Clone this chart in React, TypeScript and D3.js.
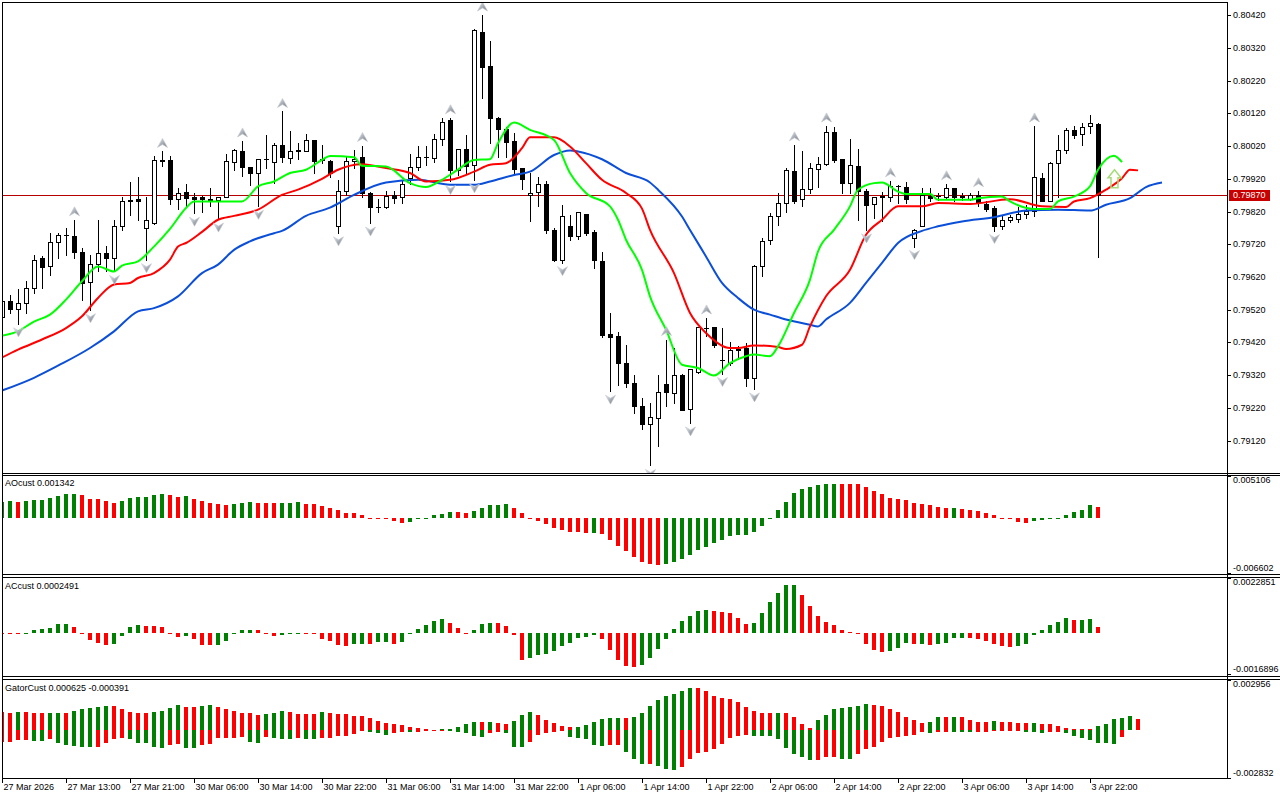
import React from "react";
import * as d3 from "d3";

// ---------- DATA ----------
const timeLabels = ["27 Mar 2026","27 Mar 13:00","27 Mar 21:00","30 Mar 06:00","30 Mar 14:00","30 Mar 22:00","31 Mar 06:00","31 Mar 14:00","31 Mar 22:00","1 Apr 06:00","1 Apr 14:00","1 Apr 22:00","2 Apr 06:00","2 Apr 14:00","2 Apr 22:00","3 Apr 06:00","3 Apr 14:00","3 Apr 22:00"];
const priceTicks = [0.8042,0.8032,0.8022,0.8012,0.8002,0.7992,0.7982,0.7972,0.7962,0.7952,0.7942,0.7932,0.7922,0.7912];
const lastPrice = 0.7987;

const opens = [0.79498,0.79546,0.79523,0.79542,0.79587,0.79679,0.79655,0.79727,0.79748,0.79745,0.79695,0.79605,0.7966,0.79693,0.79678,0.79775,0.79856,0.79859,0.79771,0.79785,0.79975,0.79977,0.79858,0.7988,0.79866,0.79864,0.79859,0.79854,0.79864,0.79971,0.80004,0.79956,0.79939,0.79981,0.79973,0.80024,0.79985,0.80007,0.80006,0.80039,0.7998,0.79975,0.79775,0.79884,0.79975,0.79988,0.79878,0.79834,0.79834,0.79871,0.79864,0.79922,0.79956,0.79986,0.79983,0.80041,0.801,0.79946,0.80011,0.79961,0.80368,0.80265,0.80107,0.80073,0.80036,0.79953,0.79871,0.7988,0.79905,0.79764,0.79673,0.79775,0.79744,0.79812,0.79759,0.7967,0.79446,0.79441,0.79357,0.79296,0.79227,0.79172,0.7919,0.79294,0.79266,0.79322,0.79217,0.79329,0.79464,0.79467,0.79365,0.79357,0.79398,0.79403,0.79312,0.79655,0.79732,0.79805,0.79846,0.79945,0.79858,0.79889,0.7995,0.79965,0.80063,0.79981,0.79907,0.7996,0.79884,0.79844,0.79866,0.79866,0.79897,0.79895,0.79739,0.79777,0.79868,0.79868,0.79866,0.79892,0.79866,0.79859,0.79871,0.79844,0.79831,0.79775,0.79793,0.79798,0.79813,0.79823,0.79922,0.79853,0.79968,0.80009,0.8007,0.80057,0.80083,0.80088];
const highs = [0.7956,0.79566,0.79584,0.79607,0.79688,0.79685,0.79755,0.79756,0.79771,0.79795,0.79709,0.79688,0.79793,0.79716,0.79793,0.79866,0.79909,0.79927,0.79866,0.79991,0.80004,0.79991,0.79892,0.79904,0.79878,0.79868,0.79892,0.79866,0.79996,0.80012,0.80036,0.79957,0.7998,0.80054,0.80029,0.80126,0.80065,0.80029,0.80057,0.8004,0.80024,0.79978,0.79917,0.7999,0.80009,0.80022,0.79879,0.79858,0.79884,0.79884,0.79917,0.79996,0.80019,0.80019,0.80057,0.80107,0.80107,0.80011,0.80054,0.80378,0.80421,0.80342,0.8011,0.8008,0.8006,0.79954,0.79938,0.79925,0.79912,0.79771,0.79841,0.7981,0.7982,0.79813,0.79764,0.79695,0.7951,0.79452,0.79413,0.79322,0.79251,0.79235,0.79322,0.79429,0.79403,0.79323,0.7934,0.79467,0.79495,0.79468,0.79464,0.7942,0.79408,0.79419,0.79658,0.79739,0.79817,0.79877,0.79953,0.80024,0.80004,0.79968,0.79988,0.80082,0.8008,0.79982,0.80042,0.80011,0.79889,0.79864,0.79881,0.79914,0.79902,0.79909,0.79767,0.79892,0.79892,0.79877,0.79905,0.79893,0.79878,0.79878,0.79884,0.79851,0.79838,0.79805,0.7981,0.79834,0.79841,0.80082,0.79938,0.79971,0.80054,0.80075,0.80082,0.80092,0.80116,0.80091];
const lows = [0.7949,0.7951,0.79477,0.79511,0.79572,0.79587,0.79627,0.79679,0.79688,0.79679,0.79551,0.7952,0.79637,0.79637,0.79637,0.79764,0.7981,0.79793,0.79673,0.79783,0.79958,0.79843,0.79828,0.79836,0.79815,0.7982,0.79836,0.79797,0.79864,0.79948,0.7993,0.79902,0.79836,0.79953,0.79907,0.79973,0.7997,0.7998,0.80004,0.79939,0.79968,0.79927,0.79755,0.79871,0.79954,0.79866,0.79785,0.79818,0.79831,0.79846,0.79846,0.79904,0.79948,0.79963,0.79973,0.80024,0.79912,0.79932,0.79938,0.79917,0.80166,0.80029,0.79988,0.79988,0.79939,0.7989,0.79792,0.79836,0.79754,0.79668,0.79664,0.79732,0.79737,0.79749,0.79648,0.79437,0.79271,0.79291,0.79284,0.79205,0.79154,0.79044,0.79105,0.79225,0.79235,0.79213,0.79174,0.79328,0.79441,0.79406,0.79325,0.79352,0.79368,0.79288,0.79278,0.79622,0.79721,0.7978,0.7982,0.79846,0.79836,0.79878,0.79894,0.79961,0.79973,0.79878,0.79877,0.79795,0.79764,0.798,0.7979,0.79851,0.79846,0.79846,0.79713,0.79775,0.79851,0.79856,0.79858,0.79853,0.79856,0.79856,0.79836,0.79823,0.79762,0.79767,0.79787,0.79787,0.798,0.79807,0.79851,0.79851,0.79866,0.8,0.80044,0.80024,0.8006,0.79681];
const closes = [0.79546,0.79522,0.79542,0.79587,0.79673,0.79651,0.79727,0.79749,0.79749,0.79695,0.79602,0.7966,0.79693,0.79678,0.79775,0.79853,0.79851,0.79853,0.79793,0.79977,0.79977,0.79858,0.79877,0.79861,0.7986,0.79858,0.79854,0.79864,0.79974,0.80008,0.79955,0.79939,0.7998,0.7998,0.80024,0.79988,0.80004,0.80006,0.80039,0.79976,0.79979,0.79938,0.79884,0.79975,0.79981,0.79877,0.79834,0.79835,0.79869,0.79861,0.79904,0.79956,0.79986,0.79987,0.80041,0.80095,0.79948,0.80011,0.79958,0.80375,0.80263,0.80105,0.80073,0.80034,0.79951,0.7992,0.79877,0.79905,0.79764,0.79673,0.79805,0.79744,0.7982,0.79754,0.79671,0.79444,0.79437,0.79357,0.79296,0.79225,0.79171,0.79193,0.79269,0.79268,0.79322,0.79215,0.7934,0.79467,0.79465,0.79413,0.79366,0.79398,0.79399,0.79312,0.79655,0.79731,0.79805,0.79846,0.79948,0.79853,0.79889,0.79953,0.79965,0.80063,0.79978,0.79907,0.79963,0.79884,0.79841,0.79864,0.79867,0.79897,0.79898,0.79858,0.79764,0.79871,0.79861,0.79867,0.79892,0.79866,0.79867,0.79871,0.79849,0.79828,0.79775,0.79795,0.79803,0.79812,0.79823,0.79925,0.79853,0.79968,0.80007,0.8007,0.80054,0.80078,0.80092,0.7987];

const jawBars = [0,4,7,11,14,17,19,22,25,27,29,31,34,35,38,41,44,48,52,56,59,61,64,66,69,71,72,75,78,81,82,85,86,88,90,92,94,96,98,101,102,103,106,108,110,112,115,117,120,124,128,132,136,138,141,143,145];
const jawVals = [0.79273,0.79312,0.79349,0.79403,0.79454,0.79515,0.79525,0.79561,0.79632,0.79658,0.79703,0.79729,0.79754,0.79761,0.79807,0.79832,0.79871,0.79909,0.79917,0.79902,0.79902,0.79912,0.79932,0.79942,0.79993,0.80007,0.80004,0.7998,0.79938,0.79909,0.79887,0.79805,0.79764,0.79683,0.79602,0.79556,0.7952,0.79505,0.7949,0.79474,0.79469,0.7949,0.79541,0.79602,0.79663,0.79724,0.79761,0.79775,0.7979,0.79803,0.79823,0.79826,0.79823,0.79841,0.79861,0.79895,0.79909];
const teethBars = [0,2,5,8,10,12,14,16,17,19,21,22,23,25,27,29,32,35,37,40,42,45,48,51,53,56,59,61,63,65,66,69,71,73,75,78,80,81,84,86,88,91,92,94,97,98,100,101,103,106,108,110,112,115,117,121,126,130,133,134,136,138,140,141,142];
const teethVals = [0.79374,0.79398,0.79429,0.79464,0.795,0.79556,0.79597,0.79602,0.79617,0.79632,0.79673,0.79713,0.79724,0.79758,0.79795,0.79807,0.79826,0.79871,0.79887,0.7992,0.79948,0.79965,0.79953,0.79938,0.79912,0.79917,0.79942,0.79963,0.79968,0.80014,0.80047,0.80047,0.80019,0.79968,0.79917,0.79877,0.79829,0.79764,0.79632,0.7951,0.79449,0.79403,0.79403,0.79411,0.79406,0.794,0.79413,0.79469,0.79561,0.79642,0.79749,0.79795,0.79836,0.79836,0.79846,0.79843,0.79858,0.79836,0.79834,0.79851,0.79861,0.79887,0.79922,0.79948,0.79946];
const lipsBars = [0,2,4,6,8,10,12,14,15,17,19,21,23,24,27,30,32,34,36,38,40,41,44,45,48,51,53,55,57,59,61,62,64,66,69,71,73,76,77,78,80,81,83,85,87,89,91,93,94,96,97,99,101,102,104,106,107,109,110,112,113,116,117,121,122,125,126,129,131,132,134,136,137,139,140];
const lipsVals = [0.79441,0.79454,0.79484,0.79505,0.79551,0.79607,0.79652,0.79637,0.79655,0.79668,0.79713,0.79767,0.79831,0.79851,0.79851,0.79851,0.79897,0.79912,0.79938,0.79948,0.79978,0.7999,0.79986,0.7996,0.79958,0.79907,0.79895,0.79917,0.79948,0.79978,0.7998,0.80029,0.80092,0.8007,0.80039,0.79938,0.79877,0.79836,0.79795,0.79734,0.79642,0.79561,0.79459,0.79352,0.79342,0.79319,0.79357,0.79378,0.79383,0.79378,0.79408,0.7951,0.79612,0.79698,0.79764,0.79836,0.79887,0.79907,0.79909,0.79881,0.79874,0.79874,0.79856,0.79856,0.79861,0.79866,0.79851,0.79828,0.79828,0.79851,0.79866,0.79897,0.79948,0.79991,0.79971];

const fractalUp = [9,20,30,35,45,56,60,83,88,99,103,111,118,122,129];
const fractalDown = [2,11,14,18,24,27,32,42,46,56,59,70,76,81,86,90,94,108,114,124];
const signalBar = 139;
const signalPrice = 0.79948;

const aoVals = [0.002,0.00205,0.002,0.00209,0.00217,0.00225,0.00241,0.00269,0.00289,0.00293,0.00281,0.00237,0.00229,0.00205,0.00184,0.00205,0.00241,0.00253,0.00257,0.00281,0.00289,0.00277,0.00257,0.00265,0.00237,0.00205,0.00184,0.00168,0.00164,0.00176,0.00184,0.00192,0.0019,0.00188,0.0018,0.00184,0.00188,0.00192,0.00172,0.00168,0.00144,0.00124,0.00096,0.00064,0.0006,0.0004,0.00008,-0.00004,-0.00008,-0.00032,-0.00052,-0.00044,-0.00012,-0.00006,0.0004,0.00056,0.00076,0.00072,0.0007,0.00088,0.0012,0.00156,0.00164,0.00172,0.00128,0.00064,-0.00004,-0.00032,-0.00064,-0.0012,-0.00144,-0.00164,-0.00168,-0.00172,-0.0017,-0.00192,-0.00261,-0.00333,-0.00393,-0.00465,-0.00525,-0.00553,-0.00565,-0.00553,-0.00525,-0.00493,-0.00445,-0.00381,-0.00345,-0.00301,-0.00261,-0.00213,-0.00205,-0.002,-0.0016,-0.00092,-0.00012,0.00096,0.002,0.00301,0.00349,0.00373,0.00397,0.00409,0.00417,0.00416,0.00415,0.00409,0.00377,0.00325,0.00289,0.00249,0.00237,0.00225,0.00188,0.00176,0.00156,0.00132,0.00124,0.00128,0.00108,0.001,0.00088,0.00064,0.00036,0.00008,-0.00012,-0.00044,-0.00056,-0.00032,-0.0002,-0.00008,-0.00002,0.00036,0.00076,0.001,0.00158,0.001342];
const acVals = [0.00002,0.00001,-0.00001,0.00001,0.00012,0.00017,0.00022,0.00036,0.00037,0.00026,-0.00001,-0.00028,-0.00039,-0.00047,-0.00044,-0.00011,0.00026,0.00033,0.00029,0.00028,0.00026,0.00003,-0.00014,-0.00011,-0.00025,-0.00048,-0.00049,-0.00047,-0.00032,-0.00003,0.00012,0.00013,0.00012,0.00003,-0.00011,-0.00008,-0.00001,0,-0.00002,-0.00003,-0.00022,-0.00032,-0.0005,-0.00052,-0.00044,-0.00043,-0.00044,-0.00037,-0.00036,-0.00044,-0.00037,-0.00001,0.00017,0.00034,0.0005,0.00058,0.00041,0.00021,0.00003,0.00012,0.00036,0.00044,0.00043,0.0003,-0.00007,-0.0011,-0.00102,-0.00088,-0.00087,-0.00073,-0.00052,-0.00039,-0.00021,-0.00015,-0.00007,-0.00025,-0.0007,-0.0011,-0.00135,-0.00139,-0.00131,-0.00103,-0.00066,-0.00025,0.00017,0.0005,0.00072,0.00092,0.00094,0.00091,0.00088,0.00083,0.00062,0.00036,0.00041,0.00084,0.00129,0.00165,0.00198,0.002,0.00157,0.00113,0.00072,0.00045,0.00034,0.00012,0.00004,-0.00003,-0.00044,-0.00069,-0.00077,-0.00073,-0.00061,-0.00041,-0.00044,-0.00043,-0.00048,-0.00043,-0.00041,-0.00021,-0.00019,-0.00021,-0.00025,-0.00033,-0.00044,-0.00054,-0.00058,-0.00052,-0.00044,-0.00008,0.00015,0.00034,0.00045,0.00062,0.00054,0.00056,0.00058,0.0002491];
const gatorUp = [0.00106,0.00102,0.00106,0.00105,0.00099,0.00098,0.00099,0.001,0.00099,0.00114,0.00122,0.00132,0.00136,0.00142,0.00141,0.00126,0.00106,0.00099,0.00098,0.00106,0.00114,0.00132,0.00148,0.00136,0.00135,0.00142,0.00148,0.00136,0.00122,0.00112,0.00099,0.00098,0.00089,0.00095,0.00099,0.00112,0.00106,0.00095,0.00094,0.00093,0.00106,0.00102,0.00095,0.00094,0.00085,0.00084,0.00073,0.00055,0.00039,0.00038,0.0003,0.0002,0.00014,0.00004,0.00001,0.00004,0.00006,0.0002,0.00033,0.00047,0.00046,0.00047,0.00043,0.00035,0.00055,0.00089,0.00108,0.00089,0.00059,0.00043,0.00024,0.00016,0.00017,0.0003,0.00047,0.00067,0.00071,0.00072,0.00071,0.00077,0.00102,0.00142,0.00177,0.00201,0.00213,0.0023,0.00246,0.00244,0.0023,0.00201,0.00187,0.00183,0.00167,0.00134,0.00112,0.00099,0.00098,0.00099,0.00098,0.00075,0.00033,0.0001,0.00059,0.00089,0.00124,0.00128,0.00134,0.00142,0.00152,0.00148,0.00144,0.00124,0.00104,0.00079,0.00059,0.00039,0.00045,0.00075,0.00074,0.00075,0.00074,0.00059,0.00047,0.00047,0.00053,0.00047,0.00046,0.00043,0.00042,0.00043,0.00035,0.00034,0.00024,0.00014,0.00008,0.00006,0.00004,0.00024,0.00033,0.00063,0.00073,0.00085,0.000625];
const gatorDown = [-0.00069,-0.00069,-0.00059,-0.00059,-0.00063,-0.00063,-0.00055,-0.00075,-0.00085,-0.00091,-0.00102,-0.00102,-0.00099,-0.00075,-0.00055,-0.00049,-0.00055,-0.00075,-0.00077,-0.00102,-0.00108,-0.00087,-0.00079,-0.00108,-0.00108,-0.00089,-0.00079,-0.00049,-0.00045,-0.00045,-0.00041,-0.00069,-0.00075,-0.00041,-0.00045,-0.00055,-0.00055,-0.00049,-0.00055,-0.00055,-0.00045,-0.00045,-0.00035,-0.00032,-0.00026,-0.00006,-0.00014,-0.00016,-0.0003,-0.0002,-0.0001,-0.00014,-0.0001,-0.00006,-0.00002,-0.00002,-0.00006,-0.0001,-0.0002,-0.00032,-0.00039,-0.0002,-0.00014,-0.0002,-0.00099,-0.00102,-0.00069,-0.0003,-0.00016,-0.00014,-0.00006,-0.00039,-0.00049,-0.00055,-0.00089,-0.00093,-0.00089,-0.00085,-0.00128,-0.00169,-0.00201,-0.00199,-0.00211,-0.00227,-0.00232,-0.00217,-0.00169,-0.00134,-0.00126,-0.00112,-0.00079,-0.00049,-0.00033,-0.0003,-0.00033,-0.00033,-0.00033,-0.00053,-0.00108,-0.00142,-0.00158,-0.00177,-0.00173,-0.0016,-0.0016,-0.00167,-0.00167,-0.00142,-0.00114,-0.00099,-0.00069,-0.00045,-0.00039,-0.00037,-0.0003,-0.00014,-0.00016,-0.00014,-0.0001,-0.00014,-0.00014,-0.00014,-0.0001,-0.0001,-0.00006,-0.00006,-0.00002,-0.00002,-0.0001,-0.00014,-0.00018,-0.00014,-0.0001,-0.0002,-0.00033,-0.00049,-0.00059,-0.00075,-0.00075,-0.00079,-0.000391];

// ---------- LAYOUT ----------
const W = 1280;
const H = 800;
const PL = 2;
const PR = 1227;
const FONT = "'Liberation Sans', Arial, sans-serif";
const GREEN = "#008000";
const RED = "#ff0000";

const x = d3.scaleLinear().domain([0, 137]).range([2, 1098]);
const yMain = d3.scaleLinear().domain([0.7912, 0.8042]).range([440.6, 15.3]);
const yAO = d3.scaleLinear().domain([-0.006602, 0.005106]).range([573.3, 476]);
const yAC = d3.scaleLinear().domain([-0.0016896, 0.0022851]).range([674.3, 577.7]);
const yG = d3.scaleLinear().domain([-0.002832, 0.002956]).range([778.3, 679.7]);

function colorsByChange(vals: number[], first: string, absMode = false): string[] {
  const out: string[] = [];
  vals.forEach((v, i) => {
    if (i === 0) { out.push(first); return; }
    const a = absMode ? Math.abs(v) : v;
    const b = absMode ? Math.abs(vals[i - 1]) : vals[i - 1];
    if (a > b) out.push(GREEN);
    else if (a < b) out.push(RED);
    else out.push(out[i - 1]);
  });
  return out;
}

function Histogram({ vals, y, colors }: { vals: number[]; y: d3.ScaleLinear<number, number>; colors: string[] }) {
  const y0 = y(0);
  return (
    <g shapeRendering="crispEdges">
      {vals.map((v, i) => {
        const cx = Math.round(x(i));
        const yv = y(v);
        const top = Math.min(yv, y0);
        const h = Math.max(1, Math.abs(yv - y0));
        return <rect key={i} x={cx - 2} y={top} width={4} height={h} fill={colors[i]} />;
      })}
    </g>
  );
}

function AxisLabelsSub({ y, top, bottom, topText, bottomText }: any) {
  return (
    <g>
      <line x1={PR} x2={PR + 4} y1={top + 0.5} y2={top + 0.5} stroke="#000" />
      <line x1={PR} x2={PR + 4} y1={bottom + 0.5} y2={bottom + 0.5} stroke="#000" />
      <text x={PR + 6} y={top + 5} dominantBaseline="middle" fontSize={9} fontFamily={FONT}>{topText}</text>
      <text x={PR + 6} y={bottom - 4} dominantBaseline="middle" fontSize={9} fontFamily={FONT}>{bottomText}</text>
    </g>
  );
}

export default function App() {
  const aoColors = colorsByChange(aoVals, GREEN);
  const acColors = colorsByChange(acVals, RED);
  const gUpColors = colorsByChange(gatorUp, RED);
  const gDnColors = colorsByChange(gatorDown, RED, true);

  const mkLine = (bars: number[], vals: number[]) =>
    d3.line<number>().x((_, i) => x(bars[i])).y((v) => yMain(v)).curve(d3.curveMonotoneX)(vals) || "";

  const sigX = x(signalBar) + 0.5;
  const sigY = yMain(signalPrice);

  return (
    <div style={{ position: "absolute", left: 0, top: 0, width: W, height: H, background: "#fff" }}>
      <svg width={W} height={H} style={{ display: "block" }}>
        <defs>
          <clipPath id="cMain"><rect x={PL + 1} y={3} width={PR - PL - 1} height={470} /></clipPath>
          <clipPath id="cAO"><rect x={PL + 1} y={476} width={PR - PL - 1} height={98} /></clipPath>
          <clipPath id="cAC"><rect x={PL + 1} y={578} width={PR - PL - 1} height={98} /></clipPath>
          <clipPath id="cG"><rect x={PL + 1} y={680} width={PR - PL - 1} height={98} /></clipPath>
          <linearGradient id="fracGrad" x1="0" y1="0" x2="1" y2="1">
            <stop offset="0" stopColor="#e8ecf4" />
            <stop offset="0.5" stopColor="#a9adb6" />
            <stop offset="1" stopColor="#6f737c" />
          </linearGradient>
        </defs>
        <rect x={0} y={0} width={W} height={H} fill="#fff" />

        {/* MAIN PANEL */}
        <g clipPath="url(#cMain)">
          <line x1={PL} x2={PR} y1={Math.round(yMain(lastPrice)) + 0.5} y2={Math.round(yMain(lastPrice)) + 0.5} stroke="#b40000" strokeWidth={1} />
          {opens.map((o, i) => {
            const cx = Math.round(x(i));
            const c = closes[i];
            const yo = Math.round(yMain(o));
            const yc = Math.round(yMain(c));
            const top = Math.min(yo, yc);
            const bot = Math.max(yo, yc);
            const bull = c >= o;
            return (
              <g key={i} shapeRendering="crispEdges">
                <line x1={cx + 0.5} x2={cx + 0.5} y1={Math.round(yMain(highs[i]))} y2={Math.round(yMain(lows[i])) + 1} stroke="#000" />
                {bot - top < 1 ? (
                  <line x1={cx - 2} x2={cx + 3} y1={top + 0.5} y2={top + 0.5} stroke="#000" />
                ) : (
                  <rect x={cx - 1.5} y={top + 0.5} width={4} height={bot - top} fill={bull ? "#fff" : "#000"} stroke="#000" />
                )}
              </g>
            );
          })}
          <path d={mkLine(jawBars, jawVals)} fill="none" stroke="#0b4fd8" strokeWidth={2} />
          <path d={mkLine(teethBars, teethVals)} fill="none" stroke="#ff0000" strokeWidth={2} />
          <path d={mkLine(lipsBars, lipsVals)} fill="none" stroke="#00ff00" strokeWidth={2} />
          {fractalUp.map((b) => {
            const cx = x(b) + 0.5;
            const t = yMain(highs[b]) - 13;
            return <path key={"u" + b} d={`M${cx},${t} L${cx + 5},${t + 9} L${cx},${t + 6} L${cx - 5},${t + 9} Z`} fill="url(#fracGrad)" stroke="#c4c8d0" strokeWidth={0.6} />;
          })}
          {fractalDown.map((b) => {
            const cx = x(b) + 0.5;
            const t = yMain(lows[b]) + 13;
            return <path key={"d" + b} d={`M${cx},${t} L${cx + 5},${t - 9} L${cx},${t - 6} L${cx - 5},${t - 9} Z`} fill="url(#fracGrad)" stroke="#c4c8d0" strokeWidth={0.6} />;
          })}
          <path
            d={`M${sigX},${sigY} L${sigX + 6.5},${sigY + 8} L${sigX + 3.5},${sigY + 8} L${sigX + 3.5},${sigY + 18} L${sigX - 3.5},${sigY + 18} L${sigX - 3.5},${sigY + 8} L${sigX - 6.5},${sigY + 8} Z`}
            fill="none" stroke="#a6dc78" strokeWidth={1.5}
          />
        </g>

        {/* SUB PANELS */}
        <g clipPath="url(#cAO)"><Histogram vals={aoVals} y={yAO} colors={aoColors} /></g>
        <g clipPath="url(#cAC)"><Histogram vals={acVals} y={yAC} colors={acColors} /></g>
        <g clipPath="url(#cG)">
          <Histogram vals={gatorUp} y={yG} colors={gUpColors} />
          <Histogram vals={gatorDown} y={yG} colors={gDnColors} />
        </g>

        {/* FRAMES */}
        <g fill="none" stroke="#000" strokeWidth={1} shapeRendering="crispEdges">
          <line x1={PL + 0.5} x2={PL + 0.5} y1={2} y2={779} />
          <line x1={PR + 0.5} x2={PR + 0.5} y1={2} y2={779} />
          <line x1={PL} x2={PR + 1} y1={2.5} y2={2.5} />
          <line x1={PL} x2={W} y1={473.5} y2={473.5} />
          <line x1={PL} x2={W} y1={475.5} y2={475.5} />
          <line x1={PL} x2={W} y1={574.5} y2={574.5} />
          <line x1={PL} x2={W} y1={577.5} y2={577.5} />
          <line x1={PL} x2={W} y1={676.5} y2={676.5} />
          <line x1={PL} x2={W} y1={679.5} y2={679.5} />
          <line x1={PL} x2={PR + 1} y1={778.5} y2={778.5} />
        </g>

        {/* PRICE AXIS */}
        <g fontFamily={FONT} fontSize={9} fill="#000">
          {priceTicks.map((p) => {
            const yy = Math.round(yMain(p)) + 0.5;
            return (
              <g key={p}>
                <line x1={PR} x2={PR + 4} y1={yy} y2={yy} stroke="#000" shapeRendering="crispEdges" />
                <text x={PR + 6} y={yy} dominantBaseline="middle">{p.toFixed(5)}</text>
              </g>
            );
          })}
          <rect x={1229} y={Math.round(yMain(lastPrice)) - 5} width={41} height={11} fill="#c80000" />
          <text x={PR + 6} y={Math.round(yMain(lastPrice)) + 0.5} dominantBaseline="middle" fill="#fff">{lastPrice.toFixed(5)}</text>
        </g>

        <AxisLabelsSub y={yAO} top={476} bottom={573} topText="0.005106" bottomText="-0.006602" />
        <AxisLabelsSub y={yAC} top={578} bottom={674} topText="0.0022851" bottomText="-0.0016896" />
        <AxisLabelsSub y={yG} top={680} bottom={778} topText="0.002956" bottomText="-0.002832" />

        {/* Indicator titles */}
        <g fontFamily={FONT} fontSize={9} fill="#000">
          <text x={5} y={484} dominantBaseline="middle">AOcust {aoVals[aoVals.length - 1].toFixed(6)}</text>
          <text x={5} y={587} dominantBaseline="middle">ACcust {acVals[acVals.length - 1].toFixed(7)}</text>
          <text x={5} y={689} dominantBaseline="middle">GatorCust {gatorUp[gatorUp.length - 1].toFixed(6)} {gatorDown[gatorDown.length - 1].toFixed(6)}</text>
        </g>

        {/* TIME AXIS */}
        <g fontFamily={FONT} fontSize={9} fill="#000">
          {timeLabels.map((t, k) => {
            const tx = Math.round(x(k * 8)) + 0.5;
            return (
              <g key={t}>
                <line x1={tx} x2={tx} y1={779} y2={783} stroke="#000" shapeRendering="crispEdges" />
                <text x={tx + 1} y={788} dominantBaseline="middle">{t}</text>
              </g>
            );
          })}
        </g>
      </svg>
    </div>
  );
}
